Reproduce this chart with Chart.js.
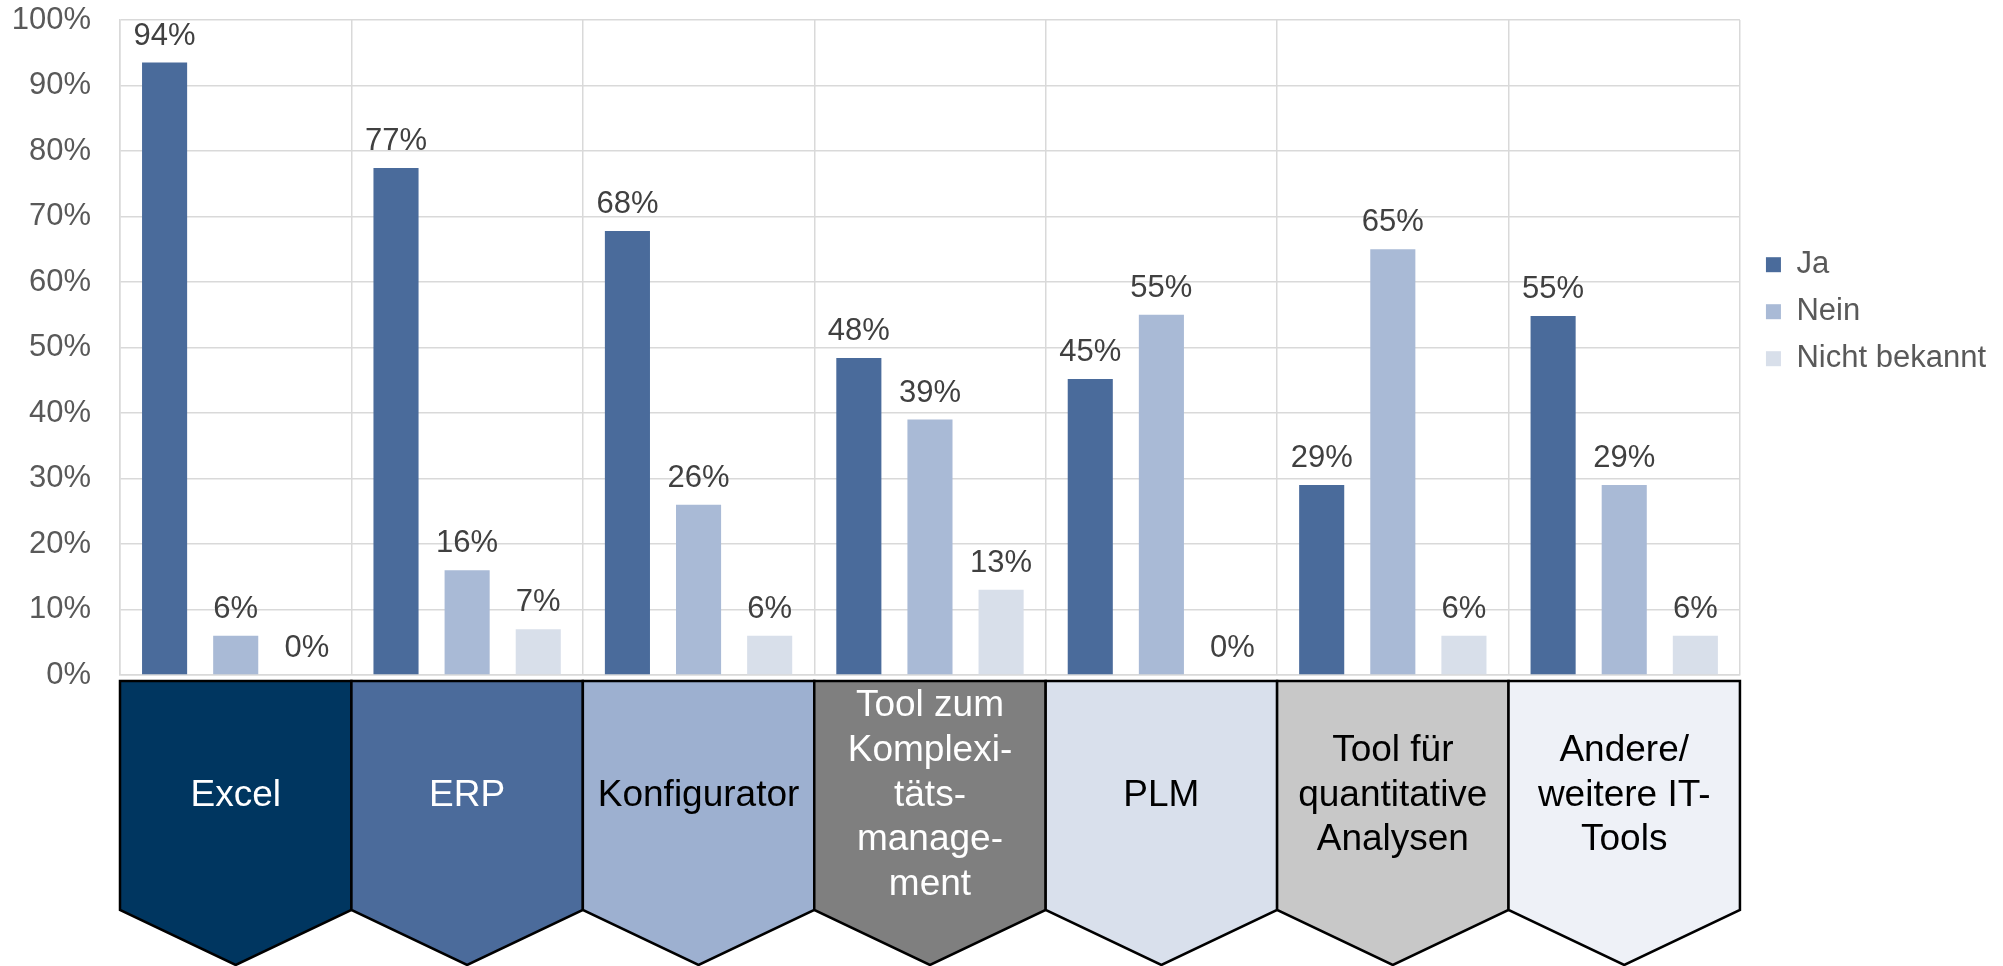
<!DOCTYPE html>
<html lang="de">
<head>
  <meta charset="UTF-8">
  <title>Eingesetzte IT-Tools</title>
  <script src="https://cdn.jsdelivr.net/npm/chart.js"></script>
  <style>
    html, body { margin: 0; padding: 0; background: #fff; }
    #wrap { width: 2003px; height: 966px; position: relative; }
  </style>
</head>
<body>
  <div id="wrap"><canvas id="toolChart"></canvas></div>

  <script>
    const categories = [
      'Excel',
      'ERP',
      'Konfigurator',
      ['Tool zum', 'Komplexi-', 'täts-', 'manage-', 'ment'],
      'PLM',
      ['Tool für', 'quantitative', 'Analysen'],
      ['Andere/', 'weitere IT-', 'Tools']
    ];
    const seriesNames = ['Ja', 'Nein', 'Nicht bekannt'];
    const jaValues = [93.5, 77.4, 67.8, 48.4, 45.2, 29, 54.8];
    const neinValues = [6, 16, 26, 39, 55, 65, 29];
    const unbekanntValues = [0, 7, 6, 13, 0, 6, 6];
    const yTicks = [0, 10, 20, 30, 40, 50, 60, 70, 80, 90, 100];

    const seriesColors = ['#4a6b9b', '#a9bad6', '#d8dfea'];
    const tagFill = ['#003660', '#4b6b9b', '#9db0d0', '#7f7f7f', '#d9e0ec', '#c8c8c8', '#eef1f7'];
    const tagText = ['#ffffff', '#ffffff', '#000000', '#ffffff', '#000000', '#000000', '#000000'];

    const FONT = '"Liberation Sans", Arial, sans-serif';
    Chart.defaults.font.family = FONT;

    // value labels above each bar
    const valueLabels = {
      id: 'valueLabels',
      afterDatasetsDraw(chart) {
        const ctx = chart.ctx;
        ctx.save();
        ctx.font = '31px ' + FONT;
        ctx.fillStyle = '#404040';
        ctx.textAlign = 'center';
        ctx.textBaseline = 'alphabetic';
        chart.data.datasets.forEach((ds, d) => {
          chart.getDatasetMeta(d).data.forEach((bar, i) => {
            ctx.fillText(Math.round(ds.data[i]) + '%', bar.x, bar.y - 18);
          });
        });
        ctx.restore();
      }
    };

    // pentagon category tags under the axis
    const categoryTags = {
      id: 'categoryTags',
      afterDraw(chart) {
        const { ctx, chartArea, scales: { x } } = chart;
        const labels = chart.data.labels;
        const half = (chartArea.right - chartArea.left) / labels.length / 2;
        const top = chartArea.bottom + 6;
        const body = 229;
        const tip = 55;
        ctx.save();
        labels.forEach((lab, i) => {
          const cx = x.getPixelForValue(i);
          ctx.beginPath();
          ctx.moveTo(cx - half, top);
          ctx.lineTo(cx + half, top);
          ctx.lineTo(cx + half, top + body);
          ctx.lineTo(cx, top + body + tip);
          ctx.lineTo(cx - half, top + body);
          ctx.closePath();
          ctx.fillStyle = tagFill[i];
          ctx.fill();
          ctx.lineWidth = 2.5;
          ctx.strokeStyle = '#000';
          ctx.stroke();

          const lines = Array.isArray(lab) ? lab : [lab];
          const lh = 44.7;
          const mid = top + body / 2;
          ctx.font = '37px ' + FONT;
          ctx.fillStyle = tagText[i];
          ctx.textAlign = 'center';
          ctx.textBaseline = 'middle';
          lines.forEach((t, k) => {
            ctx.fillText(t, cx, mid + (k - (lines.length - 1) / 2) * lh);
          });
        });
        ctx.restore();
      }
    };

    // nudge the legend a little right of the plot edge
    const legendNudge = {
      id: 'legendNudge',
      afterLayout(chart) {
        chart.legend.left += 10;
        chart.legend.right += 10;
      }
    };

    const ctx = document.getElementById('toolChart').getContext('2d');
    new Chart(ctx, {
      type: 'bar',
      data: {
        labels: categories,
        datasets: [jaValues, neinValues, unbekanntValues].map((vals, k) => ({
          label: seriesNames[k],
          data: vals,
          backgroundColor: seriesColors[k],
          borderWidth: 0,
          categoryPercentage: 0.922,
          barPercentage: 0.634
        }))
      },
      options: {
        responsive: true,
        maintainAspectRatio: false,
        animation: false,
        layout: { padding: { top: 20, right: 17, bottom: 0, left: 0 } },
        scales: {
          x: {
            grid: { offset: true, color: '#d9d9d9', lineWidth: 1.5, drawTicks: false },
            border: { color: '#d9d9d9', width: 1.5 },
            ticks: { display: false },
            afterFit: s => { s.height = 291; }
          },
          y: {
            min: 0,
            max: 100,
            afterBuildTicks: s => { s.ticks = yTicks.map(v => ({ value: v })); },
            grid: { color: '#d9d9d9', lineWidth: 1.5, drawTicks: false },
            border: { color: '#d9d9d9', width: 1.5 },
            ticks: {
              padding: 29,
              color: '#595959',
              font: { size: 31 },
              callback: v => v + '%'
            },
            afterFit: s => { s.width = 120; s.paddingTop = 0; s.paddingBottom = 0; }
          }
        },
        plugins: {
          tooltip: { enabled: false },
          legend: {
            position: 'right',
            align: 'start',
            title: { display: true, text: '', padding: { top: 176, bottom: 0 }, font: { size: 31 } },
            labels: {
              boxWidth: 15,
              boxHeight: 15,
              padding: 16,
              color: '#595959',
              font: { size: 31 }
            }
          }
        }
      },
      plugins: [valueLabels, categoryTags, legendNudge]
    });
  </script>
</body>
</html>
